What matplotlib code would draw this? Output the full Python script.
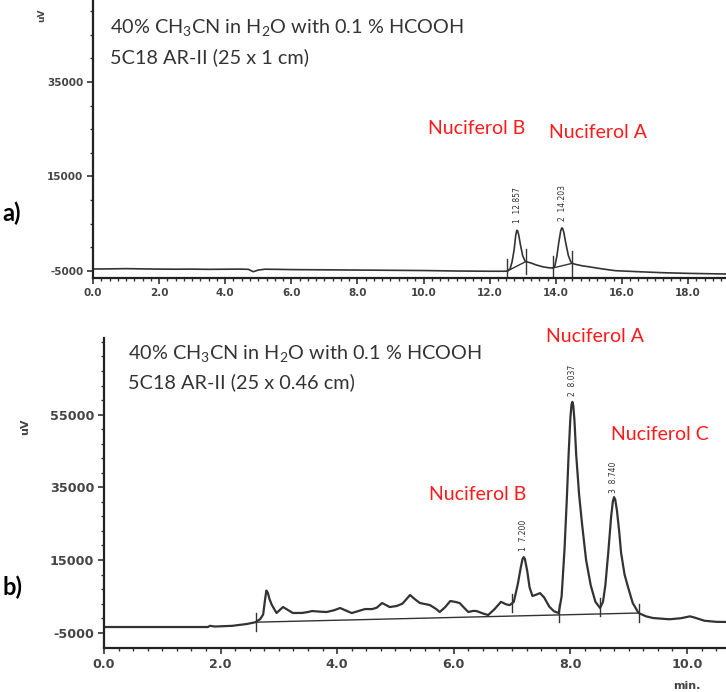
import numpy as np
import matplotlib
matplotlib.use("Agg")
import matplotlib.pyplot as plt
from matplotlib.ticker import FixedLocator, MultipleLocator, FormatStrFormatter

# ---- panel a: semi-preparative column, 25 x 1 cm ----
time_a = [0.0, 0.5, 1.0, 1.5, 2.0, 2.5, 3.0, 3.5, 4.0, 4.5, 4.7, 4.85, 5.0, 5.2,
          5.6, 6.0, 7.0, 8.0, 9.0, 10.0, 11.0, 12.0, 12.45, 12.55, 12.62, 12.68,
          12.74, 12.79, 12.82, 12.845, 12.88, 12.93, 13.0, 13.07, 13.12, 13.25, 13.4,
          13.6, 13.8, 13.91, 13.97, 14.03, 14.09, 14.15, 14.18, 14.205, 14.24, 14.3,
          14.38, 14.45, 14.5, 14.6, 14.8, 15.0, 15.4, 15.8, 16.5, 17.24, 18.0, 19.2]
signal_a = [-4580, -4550, -4500, -4550, -4600, -4620, -4600, -4650, -4620, -4600,
            -4650, -5150, -4800, -4620, -4650, -4700, -4750, -4800, -4850, -4900,
            -5000, -5050, -5050, -5000, -4500, -3000, -500, 2600, 3600, 3550, 2600,
            600, -1800, -2900, -3050, -3300, -3700, -4100, -4330, -4365, -4000,
            -2000, 1000, 3500, 4100, 4050, 3300, 1000, -1700, -3000, -3370, -3600,
            -3900, -4100, -4550, -4930, -5150, -5360, -5500, -5640]
events_a = [12.53, 13.1, 13.91, 14.5]
baseline_a = [(12.53, 13.1), (13.91, 14.5)]
peaks_a = [12.857, 14.203]
peak_ids_a = ["1", "2"]

# ---- panel b: analytical column, 25 x 0.46 cm ----
time_b = [0.0, 1.0, 1.78, 1.82, 1.9, 2.2, 2.45, 2.6, 2.68, 2.73, 2.76, 2.785,
          2.81, 2.84, 2.88, 2.96, 3.07, 3.15, 3.24, 3.4, 3.5, 3.57, 3.7, 3.82, 3.95,
          4.05, 4.15, 4.25, 4.35, 4.48, 4.6, 4.68, 4.77, 4.85, 4.9, 5.02, 5.12, 5.25,
          5.35, 5.42, 5.59, 5.7, 5.76, 5.85, 5.94, 6.02, 6.1, 6.2, 6.25, 6.33, 6.39,
          6.5, 6.59, 6.7, 6.81, 6.9, 6.96, 7.03, 7.1, 7.15, 7.18, 7.2, 7.22, 7.26,
          7.3, 7.35, 7.42, 7.48, 7.55, 7.64, 7.72, 7.8, 7.85, 7.9, 7.94, 7.97, 8.0,
          8.02, 8.035, 8.05, 8.07, 8.1, 8.15, 8.2, 8.27, 8.35, 8.43, 8.51, 8.56, 8.6,
          8.65, 8.7, 8.73, 8.75, 8.77, 8.8, 8.84, 8.87, 8.93, 8.99, 9.07, 9.17, 9.3,
          9.42, 9.7, 9.9, 10.05, 10.1, 10.3, 10.5, 10.7]
signal_b = [-3430, -3430, -3430, -3100, -3300, -3100, -2600, -2100, -1230, 0,
            3800, 6600, 6000, 4200, 2620, 420, 2070, 1300, 420, 450, 700, 970, 800,
            700, 1200, 1800, 1100, 420, 900, 1520, 1500, 1900, 3170, 2500, 2070,
            2345, 3000, 5370, 4000, 3170, 2620, 1500, 700, 2000, 3720, 3500, 3170,
            1500, 700, 1000, 970, 300, -130, 1500, 3500, 2800, 2600, 3500, 8500,
            13000, 15300, 15800, 15300, 12000, 7500, 5100, 5500, 5900, 4700, 2150,
            900, 420, 5000, 18000, 32000, 44000, 54000, 57800, 58500, 57500, 53500,
            44000, 33000, 25000, 15000, 8000, 3500, 1800, 3500, 8000, 17000, 27000,
            31200, 32300, 31600, 28500, 22500, 17000, 11000, 7500, 3170, 420, -500,
            -960, -1300, -1000, -500, -680, -1700, -2000, -2050]
events_b = [2.6, 7.0, 7.8, 8.5, 9.17]
baseline_b = [(2.6, 9.17)]
peaks_b = [7.200, 8.037, 8.740]
peak_ids_b = ["1", "2", "3"]

W, H = 726, 692
TRACE = "#333333"
RED = "#ff1a1a"

plt.rcParams['mathtext.fontset'] = 'custom'
plt.rcParams['mathtext.rm'] = 'Lato'
plt.rcParams['mathtext.it'] = 'Lato'
plt.rcParams['axes.unicode_minus'] = False

fig = plt.figure(figsize=(W / 100, H / 100), dpi=100)


def px(x, y):
    return x / W, 1 - y / H


def style_axis(ax, xlim, ylim, ymajor, yminor, font):
    ax.set_xlim(*xlim)
    ax.set_ylim(*ylim)
    for s in ["top", "right"]:
        ax.spines[s].set_visible(False)
    for s in ["left", "bottom"]:
        ax.spines[s].set_linewidth(1.6)
        ax.spines[s].set_color("#222222")
    ax.xaxis.set_major_locator(MultipleLocator(2.0))
    ax.xaxis.set_minor_locator(MultipleLocator(0.25))
    ax.xaxis.set_major_formatter(FormatStrFormatter("%.1f"))
    ax.yaxis.set_major_locator(FixedLocator(ymajor))
    ax.yaxis.set_minor_locator(FixedLocator(yminor))
    ax.tick_params(which="major", length=4, width=1.2, color="#333333", pad=3)
    ax.tick_params(which="minor", length=2.5, width=1.0, color="#333333")
    for lab in ax.get_xticklabels() + ax.get_yticklabels():
        lab.set_fontproperties(font)
        lab.set_color("#444444")


def draw_trace(ax, t, s, events, segs, peaks, ids, tick_up, tick_dn, lab_off, lw):
    ax.plot(t, s, color=TRACE, lw=lw, solid_joinstyle="round")
    for t0, t1 in segs:
        ax.plot([t0, t1], [np.interp(t0, t, s), np.interp(t1, t, s)],
                color=TRACE, lw=1.0)
    for e in events:
        v = np.interp(e, t, s)
        ax.plot([e, e], [v - tick_dn, v + tick_up], color=TRACE, lw=1.0)
    for p, i in zip(peaks, ids):
        v = max(s[int(np.argmin(np.abs(np.array(t) - p)))], np.interp(p, t, s))
        ax.text(p, v + lab_off, f"{i}  {p:.3f}", rotation=90, ha="center",
                va="bottom", fontsize=5.5, color="#333333",
                family="DejaVu Sans Condensed")


# panel a
axA = fig.add_axes([93 / W, 1 - 278 / H, 633 / W, 278 / H])
style_axis(axA, (0, 19.15), (-6480, 52340), [-5000, 15000, 35000],
           np.arange(-5000, 52000, 5000),
           {"family": "DejaVu Sans Condensed", "weight": "bold", "size": 7.5})
draw_trace(axA, time_a, signal_a, events_a, baseline_a, peaks_a, peak_ids_a,
           2600, 2600, 1600, 1.2)

# panel b
axB = fig.add_axes([104 / W, 1 - 648 / H, 622 / W, 310 / H])
style_axis(axB, (0, 10.67), (-9200, 76070), [-5000, 15000, 35000, 55000],
           np.arange(-5000, 76000, 4000),
           {"family": "DejaVu Sans", "weight": "bold", "size": 9.2})
draw_trace(axB, time_b, signal_b, events_b, baseline_b, peaks_b, peak_ids_b,
           2500, 2500, 1600, 1.6)

# axis titles
fig.text(*px(42, 15), "uV", rotation=90, ha="center", va="center",
         fontsize=6.5, weight="bold", color="#444444")
fig.text(*px(25, 427), "uV", rotation=90, ha="center", va="center",
         fontsize=8, weight="bold", color="#444444")
fig.text(*px(687, 686), "min.", ha="center", va="center",
         fontsize=8, weight="bold", color="#444444")

# conditions
cond_font = dict(family="Lato", fontsize=14.3, color="#333333", va="center", ha="left")
fig.text(*px(110, 27), r"40% CH$_3$CN in H$_2$O with 0.1 % HCOOH", **cond_font)
fig.text(*px(110, 57), "5C18 AR-II (25 x 1 cm)", **cond_font)
fig.text(*px(128, 353), r"40% CH$_3$CN in H$_2$O with 0.1 % HCOOH", **cond_font)
fig.text(*px(128, 382), "5C18 AR-II (25 x 0.46 cm)", **cond_font)

# compound labels
lab_font = dict(family="Lato", fontsize=14, color=RED, va="center", ha="center")
fig.text(*px(477, 128), "Nuciferol B", **lab_font)
fig.text(*px(598, 132), "Nuciferol A", **lab_font)
fig.text(*px(595, 337), "Nuciferol A", **lab_font)
fig.text(*px(660, 435), "Nuciferol C", **lab_font)
fig.text(*px(478, 495), "Nuciferol B", **lab_font)

# panel letters
fig.text(*px(12, 213), "a)", family="Lato", weight="bold", fontsize=17,
         ha="center", va="center", color="black")
fig.text(*px(12, 587), "b)", family="Lato", weight="bold", fontsize=17,
         ha="center", va="center", color="black")

fig.savefig("out.png", dpi=100)
